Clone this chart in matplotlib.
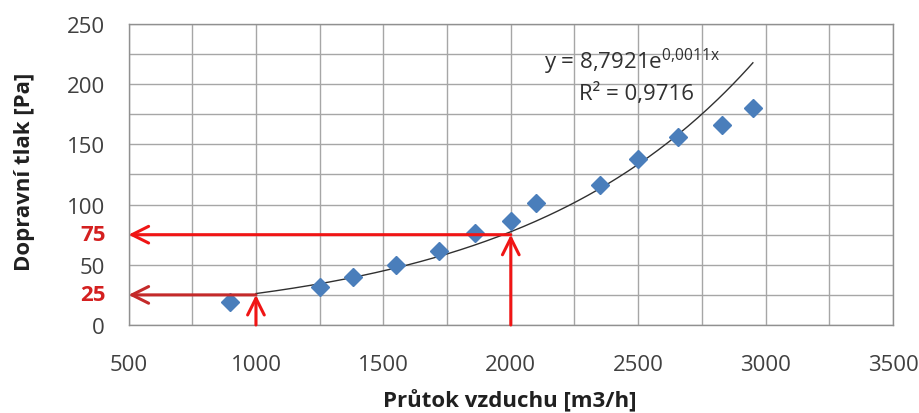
import numpy as np
import matplotlib
matplotlib.use("Agg")
import matplotlib.pyplot as plt

# data
flow = [900, 1250, 1380, 1550, 1720, 1860, 2000, 2100, 2350, 2500, 2655, 2830, 2950]
pressure = [19, 31.5, 40, 50, 61.5, 76, 86, 101, 116, 137.5, 156, 166.5, 180]
trend_a = 8.7921
trend_b = 0.001088
trend_range = [1000, 2950]
x_ticks = [500, 1000, 1500, 2000, 2500, 3000, 3500]
y_ticks = [0, 50, 100, 150, 200, 250]
red_levels = [25, 75]
red_flows = [1000, 2000]

plt.rcParams['font.family'] = ['Open Sans', 'DejaVu Sans']
plt.rcParams['mathtext.fontset'] = 'custom'
plt.rcParams['mathtext.rm'] = 'Open Sans'
plt.rcParams['mathtext.it'] = 'Open Sans'

fig = plt.figure(figsize=(9.2, 4.14), dpi=100)
ax = fig.add_axes([0.1397, 0.2126, 0.8310, 0.7270])
ax.set_xlim(500, 3500)
ax.set_ylim(0, 250)

ax.set_xticks(x_ticks)
ax.set_yticks(y_ticks)
ax.set_xticks(np.arange(500, 3501, 250), minor=True)
ax.set_yticks(np.arange(0, 251, 25), minor=True)
ax.grid(True, which='both', color='#a6a6a6', linewidth=1.0)
ax.set_axisbelow(True)
ax.tick_params(which='both', length=0)
ax.tick_params(axis='both', labelsize=16, colors='#404040')
ax.tick_params(axis='y', pad=17)
ax.tick_params(axis='x', pad=21)
for s in ax.spines.values():
    s.set_color('#909090')
    s.set_linewidth(1.0)

# trendline
xt = np.linspace(trend_range[0], trend_range[1], 200)
ax.plot(xt, trend_a * np.exp(trend_b * xt), color='#303030', linewidth=1.0, zorder=3)

# points
ax.plot(flow, pressure, linestyle='none', marker='D', markersize=9,
        color='#4a7ebb', zorder=4)

# red arrows
arrow_colors = ['#c42a2a', '#f01515']
for lvl, fl, c in zip(red_levels, red_flows, arrow_colors):
    ax.annotate('', xy=(500, lvl), xytext=(fl, lvl),
                arrowprops=dict(arrowstyle='->', color=c, lw=2.2,
                                mutation_scale=30, shrinkA=0, shrinkB=0),
                annotation_clip=False, zorder=5)
    ax.annotate('', xy=(fl, lvl), xytext=(fl, 0),
                arrowprops=dict(arrowstyle='->', color='#f01515', lw=2.2,
                                mutation_scale=30, shrinkA=0, shrinkB=0),
                annotation_clip=False, zorder=5)
    ax.text(-0.030, lvl, str(lvl), transform=ax.get_yaxis_transform(),
            ha='right', va='center', fontsize=16, fontweight='bold', color='#d42020')

ax.text(2475, 219, 'y = 8,7921e$^{\\mathregular{0{,}0011x}}$', fontsize=16, color='#303030',
        ha='center', va='center', zorder=6)
ax.text(2494, 192.5, 'R² = 0,9716', fontsize=16, color='#303030',
        ha='center', va='center', zorder=6)

fig.text(0.5543, 1 - 401 / 414, 'Průtok vzduchu [m3/h]', fontsize=16, fontweight='bold',
         color='#202020', ha='center', va='center')
fig.text(25 / 920, 1 - 172 / 414, 'Dopravní tlak [Pa]', fontsize=16, fontweight='bold',
         color='#202020', ha='center', va='center', rotation=90)

fig.savefig('out.png', dpi=100, facecolor='white')
